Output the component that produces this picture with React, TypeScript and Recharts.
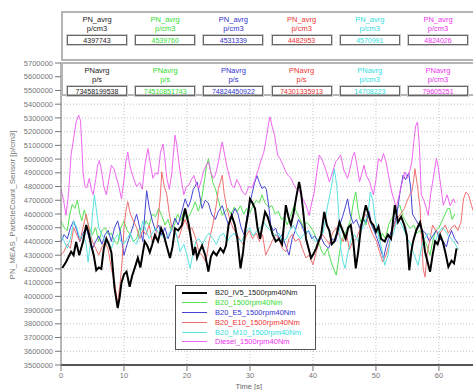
import React from 'react'
import { LineChart, Line, XAxis, YAxis, CartesianGrid, Legend } from 'recharts'

// time [s], PN [p/cm3]
const b20IV5 = [
  [0.2, 4206000], [0.8, 4250000], [1.6, 4325000], [2.0, 4300000], [2.4, 4397000], [2.9, 4300000],
  [3.5, 4400000], [4.0, 4520000], [4.4, 4460000], [4.8, 4370000], [5.2, 4300000], [5.6, 4190000],
  [6.0, 4210000], [6.4, 4200000], [6.8, 4350000], [7.2, 4420000], [7.6, 4380000], [8.0, 4320000],
  [8.5, 4060000], [9.0, 3915000], [9.3, 3990000], [9.6, 4100000], [10.0, 4160000], [10.4, 4180000],
  [10.9, 4070000], [11.3, 4150000], [11.7, 4206000], [12.2, 4280000], [12.6, 4210000], [13.0, 4320000],
  [13.3, 4400000], [13.7, 4370000], [14.1, 4320000], [14.5, 4380000], [14.9, 4446000], [15.4, 4400000],
  [15.9, 4496000], [16.3, 4450000], [16.7, 4380000], [17.3, 4280000], [17.7, 4360000], [18.1, 4496000],
  [18.6, 4480000], [19.2, 4520000], [19.7, 4640000], [20.0, 4580000], [20.3, 4520000], [20.7, 4400000],
  [21.0, 4300000], [21.3, 4360000], [21.6, 4280000], [22.0, 4330000], [22.4, 4370000], [22.9, 4300000],
  [23.4, 4180000], [23.8, 4290000], [24.2, 4325000], [24.7, 4300000], [25.3, 4350000], [25.8, 4320000],
  [26.2, 4370000], [26.6, 4520000], [27.1, 4590000], [27.6, 4520000], [28.0, 4420000], [28.5, 4204000],
  [28.9, 4320000], [29.3, 4496000], [29.7, 4600000], [30.0, 4710000], [30.4, 4680000], [30.8, 4640000],
  [31.2, 4500000], [31.6, 4420000], [32.0, 4520000], [32.4, 4615000], [32.8, 4580000], [33.2, 4520000],
  [33.6, 4450000], [34.1, 4400000], [34.6, 4420000], [35.1, 4380000], [35.7, 4664000], [36.1, 4580000],
  [36.5, 4520000], [36.9, 4600000], [37.3, 4710000], [37.8, 4834000], [38.1, 4760000], [38.4, 4640000],
  [38.9, 4420000], [39.3, 4350000], [39.7, 4280000], [40.1, 4310000], [40.5, 4350000], [40.9, 4400000],
  [41.3, 4446000], [41.8, 4615000], [42.2, 4520000], [42.6, 4480000], [43.0, 4380000], [43.4, 4400000],
  [43.8, 4460000], [44.2, 4540000], [44.7, 4480000], [45.2, 4420000], [45.6, 4500000], [46.0, 4520000],
  [46.4, 4400000], [46.8, 4204000], [47.2, 4330000], [47.6, 4496000], [48.0, 4580000], [48.4, 4664000],
  [48.8, 4600000], [49.2, 4540000], [49.6, 4520000], [50.0, 4470000], [50.4, 4510000], [50.8, 4420000],
  [51.4, 4400000], [51.9, 4450000], [52.4, 4420000], [53.0, 4664000], [53.5, 4540000], [54.0, 4580000],
  [54.5, 4520000], [54.9, 4446000], [55.3, 4190000], [55.6, 4320000], [55.9, 4400000], [56.4, 4480000],
  [57.0, 4540000], [57.4, 4460000], [57.8, 4325000], [58.2, 4250000], [58.6, 4180000], [59.0, 4300000],
  [59.4, 4400000], [59.8, 4380000], [60.2, 4446000], [60.6, 4400000], [61.0, 4325000], [61.5, 4215000],
  [62.0, 4260000], [62.4, 4240000], [62.8, 4350000],
]

const b20 = [
  [0.0, 4550000], [0.5, 4500000], [1.0, 4480000], [1.4, 4600000], [1.8, 4670000], [2.2, 4640000],
  [2.6, 4700000], [3.0, 4600000], [3.3, 4550000], [3.7, 4630000], [4.1, 4560000], [4.5, 4500000],
  [5.0, 4450000], [5.5, 4500000], [6.0, 4400000], [6.5, 4480000], [7.0, 4500000], [7.5, 4450000],
  [8.0, 4460000], [8.5, 4400000], [9.0, 4380000], [9.5, 4500000], [10.0, 4550000], [10.5, 4480000],
  [11.0, 4450000], [11.5, 4400000], [12.0, 4420000], [12.5, 4500000], [13.0, 4480000], [13.5, 4550000],
  [14.0, 4520000], [14.5, 4600000], [15.0, 4580000], [15.5, 4640000], [16.0, 4590000], [16.5, 4520000],
  [17.0, 4560000], [17.5, 4480000], [18.0, 4520000], [18.5, 4600000], [19.0, 4550000], [19.5, 4620000],
  [20.0, 4560000], [20.5, 4600000], [21.0, 4650000], [21.3, 4690000], [21.8, 4620000], [22.3, 4700000],
  [22.8, 4850000], [23.1, 4950000], [23.4, 5004000], [23.8, 4900000], [24.1, 4830000], [24.5, 4786000],
  [25.0, 4700000], [25.6, 4590000], [26.0, 4620000], [26.5, 4640000], [27.0, 4600000], [27.5, 4650000],
  [28.0, 4620000], [28.5, 4660000], [29.0, 4600000], [29.5, 4640000], [30.0, 4610000], [30.5, 4660000],
  [31.0, 4700000], [31.5, 4680000], [31.9, 4740000], [32.4, 4680000], [33.0, 4650000], [33.5, 4660000],
  [34.0, 4600000], [34.5, 4620000], [35.0, 4560000], [35.5, 4580000], [35.9, 4520000], [36.4, 4580000],
  [37.0, 4660000], [37.5, 4600000], [38.0, 4560000], [38.5, 4500000], [39.0, 4540000], [39.4, 4520000],
  [40.0, 4480000], [40.5, 4424000], [41.0, 4380000], [41.4, 4330000], [41.8, 4300000], [42.3, 4350000],
  [42.9, 4250000], [43.3, 4200000], [43.7, 4155000], [44.1, 4280000], [44.5, 4400000], [45.0, 4450000],
  [45.5, 4500000], [46.0, 4560000], [46.4, 4680000], [46.8, 4760000], [47.2, 4620000], [47.6, 4540000],
  [48.0, 4580000], [48.4, 4520000], [48.8, 4600000], [49.2, 4540000], [49.7, 4480000], [50.2, 4500000],
  [50.6, 4400000], [51.0, 4460000], [51.5, 4420000], [52.0, 4520000], [52.4, 4560000], [53.0, 4600000],
  [53.4, 4640000], [53.8, 4664000], [54.3, 4580000], [54.8, 4540000], [55.4, 4495000], [56.0, 4520000],
  [56.5, 4460000], [57.0, 4480000], [57.5, 4420000], [58.0, 4380000], [58.6, 4300000], [59.0, 4400000],
  [59.5, 4480000], [60.0, 4500000], [60.5, 4550000], [61.0, 4600000], [61.4, 4640000], [61.7, 4640000],
  [62.1, 4560000], [62.5, 4600000],
]

const b20E5 = [
  [0.0, 4400000], [0.5, 4450000], [1.0, 4420000], [1.5, 4500000], [2.0, 4550000], [2.5, 4480000],
  [3.0, 4400000], [3.5, 4460000], [4.0, 4500000], [4.5, 4420000], [5.0, 4350000], [5.5, 4400000],
  [6.0, 4440000], [6.5, 4380000], [7.0, 4450000], [7.5, 4480000], [8.0, 4400000], [8.5, 4500000],
  [9.0, 4550000], [9.5, 4450000], [10.0, 4300000], [10.5, 4380000], [11.0, 4450000], [11.5, 4520000],
  [12.0, 4600000], [12.5, 4500000], [13.0, 4400000], [13.3, 4600000], [13.6, 4770000], [14.0, 4650000],
  [14.5, 4550000], [15.0, 4480000], [15.5, 4520000], [16.0, 4446000], [16.5, 4500000], [17.0, 4420000],
  [17.5, 4480000], [18.1, 4570000], [18.6, 4520000], [19.2, 4620000], [19.7, 4710000], [20.2, 4650000],
  [20.6, 4700000], [21.0, 4780000], [21.3, 4800000], [21.6, 4834000], [22.0, 4740000], [22.4, 4640000],
  [22.9, 4700000], [23.4, 4680000], [23.9, 4600000], [24.5, 4560000], [25.0, 4620000], [25.6, 4660000],
  [26.0, 4600000], [26.6, 4520000], [27.1, 4580000], [27.6, 4640000], [28.1, 4600000], [28.6, 4500000],
  [29.1, 4446000], [29.6, 4600000], [30.0, 4680000], [30.3, 4740000], [30.7, 4820000], [31.1, 4880000],
  [31.5, 4830000], [31.9, 4786000], [32.3, 4800000], [32.6, 4780000], [33.0, 4650000], [33.3, 4520000],
  [33.7, 4480000], [34.1, 4496000], [34.6, 4420000], [35.1, 4450000], [35.6, 4380000], [36.2, 4300000],
  [36.7, 4420000], [37.2, 4480000], [37.7, 4560000], [38.2, 4520000], [38.8, 4450000], [39.3, 4480000],
  [39.8, 4420000], [40.3, 4440000], [40.8, 4400000], [41.2, 4440000], [41.8, 4380000], [42.5, 4350000],
  [43.0, 4420000], [43.6, 4400000], [44.1, 4500000], [44.7, 4580000], [45.2, 4660000], [45.5, 4710000],
  [45.9, 4600000], [46.4, 4530000], [46.9, 4560000], [47.4, 4500000], [47.9, 4560000], [48.4, 4540000],
  [48.9, 4620000], [49.3, 4520000], [49.7, 4480000], [50.2, 4420000], [50.7, 4350000], [51.2, 4276000],
  [51.6, 4360000], [52.0, 4420000], [52.5, 4480000], [53.0, 4540000], [53.4, 4620000], [53.8, 4750000],
  [54.3, 4883000], [54.7, 4850000], [55.2, 4900000], [55.5, 4800000], [55.8, 4600000], [56.3, 4560000],
  [56.8, 4520000], [57.4, 4480000], [57.9, 4460000], [58.5, 4400000], [59.0, 4440000], [59.6, 4480000],
  [60.1, 4420000], [60.7, 4400000], [61.2, 4360000], [61.5, 4420000], [62.0, 4480000], [62.5, 4420000],
  [63.1, 4380000],
]

const b20E10 = [
  [0.0, 4300000], [0.5, 4330000], [1.0, 4380000], [1.5, 4350000], [2.0, 4500000], [2.5, 4450000],
  [3.0, 4400000], [3.5, 4500000], [4.0, 4600000], [4.5, 4480000], [5.0, 4400000], [5.5, 4350000],
  [6.0, 4300000], [6.5, 4360000], [7.0, 4400000], [7.5, 4340000], [8.0, 4200000], [8.5, 4100000],
  [9.0, 3950000], [9.4, 4100000], [9.7, 4250000], [10.0, 4500000], [10.3, 4620000], [10.6, 4690000],
  [11.0, 4600000], [11.5, 4550000], [12.0, 4500000], [12.5, 4420000], [13.0, 4480000], [13.5, 4450000],
  [14.0, 4520000], [14.5, 4400000], [15.0, 4420000], [15.5, 4600000], [15.8, 4750000], [16.0, 4907000],
  [16.4, 4800000], [16.8, 4740000], [17.2, 4600000], [17.6, 4500000], [18.1, 4460000], [18.7, 4424000],
  [19.2, 4500000], [19.7, 4560000], [20.3, 4480000], [20.8, 4500000], [21.4, 4420000], [21.9, 4320000],
  [22.4, 4300000], [23.0, 4250000], [23.5, 4400000], [24.1, 4520000], [24.6, 4650000], [25.0, 4786000],
  [25.3, 4830000], [25.6, 4883000], [25.9, 4750000], [26.3, 4650000], [26.8, 4560000], [27.3, 4500000],
  [27.8, 4460000], [28.3, 4420000], [28.9, 4380000], [29.4, 4440000], [29.9, 4480000], [30.4, 4420000],
  [31.0, 4460000], [31.5, 4400000], [32.0, 4450000], [32.5, 4300000], [33.0, 4350000], [33.5, 4400000],
  [34.1, 4450000], [34.6, 4420000], [35.1, 4350000], [35.7, 4325000], [36.2, 4420000], [36.7, 4450000],
  [37.2, 4400000], [37.8, 4420000], [38.3, 4350000], [38.9, 4280000], [39.4, 4300000], [40.0, 4230000],
  [40.5, 4320000], [41.0, 4400000], [41.5, 4450000], [42.0, 4420000], [42.6, 4380000], [43.1, 4460000],
  [43.7, 4500000], [44.2, 4440000], [44.8, 4400000], [45.3, 4460000], [45.8, 4340000], [46.3, 4400000],
  [46.9, 4420000], [47.4, 4480000], [47.9, 4560000], [48.4, 4600000], [48.9, 4520000], [49.5, 4450000],
  [50.1, 4400000], [50.6, 4320000], [51.1, 4250000], [51.6, 4300000], [52.2, 4400000], [52.8, 4500000],
  [53.3, 4560000], [53.9, 4600000], [54.5, 4640000], [55.0, 4700000], [55.4, 4740000], [55.7, 4760000],
  [56.0, 4850000], [56.2, 4930000], [56.6, 4800000], [57.0, 4650000], [57.5, 4204000], [57.8, 4140000],
  [58.1, 4300000], [58.5, 4400000], [59.0, 4520000], [59.5, 4480000], [60.0, 4450000], [60.5, 4480000],
  [61.0, 4520000], [61.5, 4460000], [62.0, 4500000], [62.5, 4520000], [63.0, 4480000], [63.5, 4540000],
  [63.9, 4710000], [64.3, 4760000], [64.7, 4740000], [65.2, 4660000], [65.6, 4600000],
]

const b20M10 = [
  [0.0, 4450000], [0.5, 4400000], [1.0, 4350000], [1.5, 4420000], [2.0, 4550000], [2.5, 4500000],
  [3.0, 4420000], [3.5, 4450000], [4.0, 4380000], [4.3, 4250000], [4.7, 4400000], [5.0, 4600000],
  [5.3, 4740000], [5.7, 4600000], [6.0, 4500000], [6.5, 4450000], [7.0, 4400000], [7.5, 4380000],
  [8.0, 4350000], [8.5, 4420000], [9.0, 4450000], [9.5, 4400000], [10.0, 4380000], [10.5, 4420000],
  [11.0, 4460000], [11.5, 4400000], [12.0, 4380000], [12.5, 4450000], [13.0, 4550000], [13.5, 4480000],
  [14.0, 4420000], [14.5, 4460000], [15.0, 4500000], [15.5, 4460000], [16.0, 4440000], [16.6, 4420000],
  [17.2, 4460000], [17.7, 4500000], [18.3, 4460000], [18.9, 4325000], [19.5, 4380000], [20.0, 4300000],
  [20.5, 4204000], [20.9, 4300000], [21.4, 4400000], [21.9, 4420000], [22.5, 4380000], [23.0, 4430000],
  [23.5, 4460000], [24.1, 4420000], [24.7, 4380000], [25.2, 4440000], [25.8, 4460000], [26.4, 4400000],
  [27.0, 4440000], [27.5, 4460000], [28.1, 4420000], [28.7, 4400000], [29.3, 4460000], [29.9, 4500000],
  [30.5, 4440000], [31.1, 4480000], [31.7, 4500000], [32.2, 4540000], [32.8, 4500000], [33.3, 4480000],
  [34.0, 4440000], [34.6, 4460000], [35.1, 4400000], [35.8, 4420000], [36.3, 4480000], [36.9, 4520000],
  [37.4, 4460000], [38.0, 4420000], [38.7, 4460000], [39.3, 4480000], [39.8, 4440000], [40.4, 4400000],
  [41.0, 4420000], [41.6, 4460000], [42.1, 4600000], [42.5, 4700000], [42.9, 4790000], [43.4, 4930000],
  [43.8, 4800000], [44.1, 4600000], [44.4, 4350000], [44.8, 4250000], [45.1, 4204000], [45.6, 4330000],
  [46.1, 4420000], [46.6, 4450000], [47.2, 4400000], [47.7, 4480000], [48.3, 4540000], [48.8, 4620000],
  [49.1, 4760000], [49.5, 4700000], [49.9, 4560000], [50.4, 4450000], [50.9, 4350000], [51.4, 4226000],
  [51.9, 4300000], [52.3, 4420000], [52.8, 4460000], [53.4, 4560000], [53.9, 4540000], [54.5, 4480000],
  [55.0, 4420000], [55.5, 4380000], [56.1, 4300000], [56.7, 4226000], [57.2, 4350000], [57.7, 4420000],
  [58.3, 4460000], [58.9, 4430000], [59.4, 4400000], [60.0, 4470000], [60.5, 4500000], [61.0, 4480000],
  [61.5, 4440000], [62.0, 4420000], [62.6, 4380000], [63.1, 4340000],
]

const diesel = [
  [0.0, 4780000], [0.4, 4700000], [0.8, 4590000], [1.2, 4750000], [1.6, 5030000], [2.0, 5150000],
  [2.4, 5270000], [2.8, 5320000], [3.1, 5280000], [3.3, 5100000], [3.5, 4907000], [3.8, 4800000],
  [4.1, 4790000], [4.5, 4860000], [4.8, 4780000], [5.1, 4740000], [5.5, 4850000], [5.8, 4950000],
  [6.1, 4990000], [6.5, 4900000], [6.8, 4800000], [7.2, 4740000], [7.6, 4850000], [8.0, 4955000],
  [8.4, 4930000], [8.7, 4880000], [9.2, 4800000], [9.6, 4710000], [10.0, 4850000], [10.3, 4980000],
  [10.6, 5050000], [10.9, 4960000], [11.2, 4907000], [11.6, 4850000], [12.0, 4798000], [12.5, 4830000],
  [12.9, 4780000], [13.3, 4950000], [13.8, 5077000], [14.1, 4990000], [14.6, 4860000], [15.0, 4900000],
  [15.4, 4890000], [15.8, 5050000], [16.2, 5110000], [16.5, 5000000], [16.8, 4860000], [17.2, 4780000],
  [17.6, 4900000], [18.1, 5174000], [18.4, 5100000], [18.7, 4980000], [19.1, 4850000], [19.5, 4740000],
  [19.9, 4800000], [20.3, 4810000], [20.7, 4850000], [21.1, 4880000], [21.5, 4820000], [21.9, 4786000],
  [22.3, 4850000], [22.6, 4907000], [23.0, 4950000], [23.4, 4980000], [23.8, 4900000], [24.2, 4860000],
  [24.5, 4883000], [25.0, 4980000], [25.3, 5060000], [25.6, 5125000], [25.9, 5050000], [26.3, 4955000],
  [26.7, 4880000], [27.1, 4810000], [27.5, 4790000], [27.9, 4850000], [28.3, 4820000], [28.8, 4760000],
  [29.3, 4740000], [29.8, 4800000], [30.3, 4790000], [30.8, 4850000], [31.3, 4920000], [31.8, 5000000],
  [32.2, 5050000], [32.6, 5150000], [33.0, 5270000], [33.2, 5307000], [33.5, 5240000], [33.9, 5174000],
  [34.4, 5030000], [34.8, 5000000], [35.2, 4960000], [35.7, 4907000], [36.1, 4880000], [36.5, 4860000],
  [36.9, 4820000], [37.3, 4786000], [37.7, 4780000], [38.1, 4740000], [38.5, 4700000], [38.9, 4664000],
  [39.4, 4590000], [39.8, 4680000], [40.2, 4760000], [40.6, 4900000], [41.0, 5030000], [41.4, 5000000],
  [41.8, 4955000], [42.2, 4900000], [42.6, 4834000], [43.1, 4900000], [43.6, 4980000], [44.0, 5000000],
  [44.4, 5030000], [44.9, 4920000], [45.5, 4860000], [46.0, 4950000], [46.3, 5020000], [46.6, 5050000],
  [47.0, 4950000], [47.4, 4834000], [47.8, 4900000], [48.1, 4955000], [48.5, 4880000], [49.0, 4834000],
  [49.6, 4740000], [50.0, 4850000], [50.4, 5004000], [50.8, 4980000], [51.2, 5040000], [51.6, 4980000],
  [52.0, 4880000], [52.5, 4760000], [52.9, 4700000], [53.2, 4640000], [53.6, 4720000], [54.0, 4800000],
  [54.6, 4907000], [55.0, 4860000], [55.3, 4900000], [55.7, 4980000], [56.0, 5120000], [56.3, 5240000],
  [56.6, 5270000], [56.9, 5100000], [57.2, 4740000], [57.6, 4700000], [58.0, 4640000], [58.3, 4590000],
  [58.7, 4750000], [59.1, 4860000], [59.6, 5004000], [59.9, 4940000], [60.3, 4800000], [60.7, 4664000],
  [61.0, 4700000], [61.3, 4740000], [61.8, 4660000], [62.3, 4710000], [62.6, 4680000],
]

const yTicks = [
  3500000, 3600000, 3700000, 3800000, 3900000, 4000000, 4100000, 4200000, 4300000, 4400000, 4500000, 4600000,
  4700000, 4800000, 4900000, 5000000, 5100000, 5200000, 5300000, 5400000, 5500000, 5600000, 5700000,
]
const xTicks = [0, 10, 20, 30, 40, 50, 60]

const seriesNames = [
  'B20_IV5_1500rpm40Nm', 'B20_1500rpm40Nm', 'B20_E5_1500rpm40Nm',
  'B20_E10_1500rpm40Nm', 'B20_M10_1500rpm40Nm', 'Diesel_1500rpm40Nm',
]
const seriesData = [b20IV5, b20, b20E5, b20E10, b20M10, diesel]
const lineColors = ['#000000', '#55e055', '#4444d4', '#f07070', '#5ae2e2', '#ee66ee']
const textColors = ['#222222', '#33dd33', '#3333cc', '#ee3333', '#33dddd', '#ee33ee']
const lineWidths = [2, 1, 1, 1, 1, 1]

const avgNames = ['PN_avrg', 'PN_avrg', 'PN_avrg', 'PN_avrg', 'PN_avrg', 'PN_avrg']
const avgUnits = ['p/cm3', 'p/cm3', 'p/cm3', 'p/cm3', 'p/cm3', 'p/cm3']
const avgValues = ['4397743', '4539760', '4531339', '4482953', '4570991', '4824026']
const rateNames = ['PNavrg', 'PNavrg', 'PNavrg', 'PNavrg', 'PNavrg', 'PNavrg']
const rateUnits = ['p/s', 'p/s', 'p/s', 'p/s', 'p/cm3', 'p/cm3']
const rateValues = ['73458199538', '74510851743', '74824450922', '74301335913', '14708223', '79605251']

const FONT = '"Liberation Sans", Arial, sans-serif'
const drawOrder = [1, 2, 3, 4, 5, 0]

const StatPanel = ({ top, height, names, units, values }: any) => (
  <div
    style={{
      position: 'absolute', left: 61, top, width: 440, height,
      border: '2px solid #b4b4b4', boxSizing: 'border-box', background: '#fff',
    }}
  >
    {names.map((n: string, i: number) => (
      <div
        key={i}
        style={{
          position: 'absolute', left: 4 + i * 68.2, top: 2, width: 60,
          textAlign: 'center', color: textColors[i], fontSize: 7.5, lineHeight: '9px',
        }}
      >
        <div>{n}</div>
        <div>{units[i]}</div>
        <div
          style={{
            marginTop: 2, height: 10, border: '1px solid #666', boxShadow: '0 0 0 1px #ccc',
            fontSize: 7, lineHeight: '10px', boxSizing: 'border-box',
          }}
        >
          {values[i]}
        </div>
      </div>
    ))}
  </div>
)

const LegendBox = () => (
  <div style={{ border: '1px solid #555', background: '#fff', padding: '2px 0 2px 6px', width: 141, boxSizing: 'border-box' }}>
    {seriesNames.map((n, i) => (
      <div key={n} style={{ display: 'flex', alignItems: 'center', height: 9.8 }}>
        <span style={{ display: 'inline-block', width: 25, height: lineWidths[i], background: lineColors[i] }} />
        <span style={{ marginLeft: 8, color: textColors[i], fontSize: 7.5, fontFamily: FONT }}>{n}</span>
      </div>
    ))}
  </div>
)

export default function App() {
  return (
    <div
      style={{
        position: 'absolute', left: 0, top: 0, width: 473, height: 390,
        overflow: 'hidden', background: '#fff', fontFamily: FONT,
      }}
    >
      <LineChart width={483} height={390} margin={{ top: 63, right: 0, bottom: 0, left: 0 }}>
        <CartesianGrid stroke="#c4c4c4" strokeDasharray="1 2" horizontalValues={yTicks} verticalValues={xTicks} />
        <XAxis
          type="number"
          dataKey="t"
          domain={[0, 67]}
          ticks={xTicks}
          height={25}
          allowDataOverflow
          stroke="#555"
          strokeWidth={2}
          tick={{ fontSize: 7.5, fill: '#777', fontFamily: FONT }}
          tickLine={{ stroke: '#777', strokeWidth: 1 }}
          label={{
            content: ({ viewBox }: any) => (
              <text x={viewBox.x + viewBox.width * 0.445} y={389} textAnchor="middle" fontSize={7.5} fill="#666" fontFamily={FONT}>
                Time [s]
              </text>
            ),
          }}
        />
        <YAxis
          type="number"
          dataKey="v"
          domain={[3500000, 5700000]}
          ticks={yTicks}
          interval={0}
          width={61}
          allowDataOverflow
          stroke="#777"
          tick={{ fontSize: 7.5, fill: '#777', fontFamily: FONT }}
          label={{
            content: ({ viewBox }: any) => {
              const cy = viewBox.y + viewBox.height * 0.47
              return (
                <text x={13} y={cy} transform={`rotate(-90 13 ${cy})`} textAnchor="middle" dominantBaseline="central" fontSize={8} fill="#777" fontFamily={FONT}>
                  PN_MEAS_ParticleCount_Sensor [p/cm3]
                </text>
              )
            },
          }}
        />
        {drawOrder.map((i) => (
          <Line
            key={seriesNames[i]}
            name={seriesNames[i]}
            data={seriesData[i].map(([t, v]) => ({ t, v }))}
            dataKey="v"
            type="linear"
            stroke={lineColors[i]}
            strokeWidth={lineWidths[i]}
            dot={false}
            activeDot={false}
            isAnimationActive={false}
          />
        ))}
        <Legend
          layout="vertical"
          align="center"
          verticalAlign="middle"
          content={() => <LegendBox />}
          wrapperStyle={{ left: 175, top: 285, width: 141 }}
        />
      </LineChart>
      <StatPanel top={11} height={50} names={avgNames} units={avgUnits} values={avgValues} />
      <StatPanel top={62} height={34} names={rateNames} units={rateUnits} values={rateValues} />
    </div>
  )
}
